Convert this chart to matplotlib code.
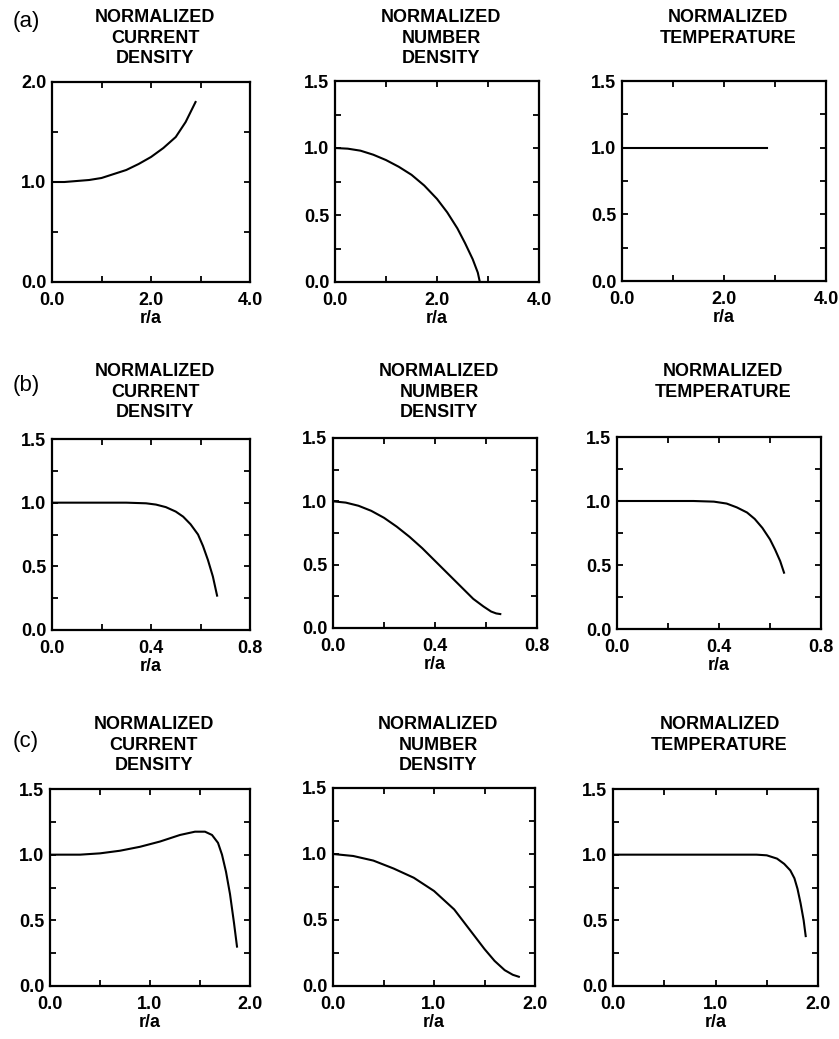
import numpy as np
import matplotlib
matplotlib.use('Agg')
import matplotlib.pyplot as plt
from matplotlib.ticker import MultipleLocator, FormatStrFormatter

plt.rcParams['font.family'] = ['Liberation Sans', 'DejaVu Sans']

# -------- DATA --------
# row (a)
a_cur_x = [0.0, 0.25, 0.5, 0.75, 1.0, 1.25, 1.5, 1.75, 2.0, 2.25, 2.5, 2.7, 2.9]
a_cur_y = [1.0, 1.0, 1.01, 1.02, 1.04, 1.08, 1.12, 1.18, 1.25, 1.34, 1.45, 1.6, 1.8]
a_num_x = [0.0, 0.25, 0.5, 0.75, 1.0, 1.25, 1.5, 1.75, 2.0, 2.2, 2.4, 2.55, 2.7, 2.8, 2.84]
a_num_y = [1.0, 0.995, 0.98, 0.95, 0.91, 0.86, 0.8, 0.72, 0.62, 0.52, 0.4, 0.29, 0.17, 0.07, 0.0]
a_tmp_x = [0.0, 2.85]
a_tmp_y = [1.0, 1.0]

# row (b)
b_cur_x = [0.0, 0.3, 0.38, 0.42, 0.46, 0.5, 0.53, 0.56, 0.59, 0.61, 0.63, 0.65, 0.667]
b_cur_y = [1.0, 1.0, 0.995, 0.985, 0.965, 0.93, 0.89, 0.83, 0.75, 0.66, 0.55, 0.42, 0.27]
b_num_x = [0.0, 0.05, 0.1, 0.15, 0.2, 0.25, 0.3, 0.35, 0.4, 0.45, 0.5, 0.55, 0.59, 0.62, 0.64, 0.656]
b_num_y = [1.0, 0.99, 0.965, 0.925, 0.87, 0.8, 0.72, 0.63, 0.53, 0.43, 0.33, 0.23, 0.17, 0.13, 0.115, 0.11]
b_tmp_x = [0.0, 0.3, 0.38, 0.43, 0.47, 0.51, 0.54, 0.57, 0.6, 0.62, 0.64, 0.655]
b_tmp_y = [1.0, 1.0, 0.995, 0.98, 0.95, 0.91, 0.86, 0.79, 0.7, 0.62, 0.53, 0.44]

# row (c)
c_cur_x = [0.0, 0.3, 0.5, 0.7, 0.9, 1.1, 1.3, 1.45, 1.55, 1.62, 1.68, 1.72, 1.76, 1.8, 1.84, 1.87]
c_cur_y = [1.0, 1.0, 1.01, 1.03, 1.06, 1.1, 1.15, 1.175, 1.175, 1.15, 1.09, 1.0, 0.87, 0.7, 0.48, 0.3]
c_num_x = [0.0, 0.2, 0.4, 0.6, 0.8, 1.0, 1.2, 1.4, 1.5, 1.6, 1.7, 1.78, 1.84]
c_num_y = [1.0, 0.985, 0.95, 0.89, 0.82, 0.72, 0.58, 0.38, 0.28, 0.19, 0.12, 0.085, 0.07]
c_tmp_x = [0.0, 1.4, 1.5, 1.6, 1.67, 1.73, 1.77, 1.8, 1.83, 1.86, 1.88]
c_tmp_y = [1.0, 1.0, 0.995, 0.97, 0.93, 0.88, 0.82, 0.74, 0.63, 0.5, 0.38]

row_labels = ['(a)', '(b)', '(c)']
titles = ['NORMALIZED\nCURRENT\nDENSITY',
          'NORMALIZED\nNUMBER\nDENSITY',
          'NORMALIZED\nTEMPERATURE']
xlims = [4.0, 0.8, 2.0]
x_major = [2.0, 0.4, 1.0]
x_minor = [1.0, 0.2, 0.5]

rows = [
    [(a_cur_x, a_cur_y), (a_num_x, a_num_y), (a_tmp_x, a_tmp_y)],
    [(b_cur_x, b_cur_y), (b_num_x, b_num_y), (b_tmp_x, b_tmp_y)],
    [(c_cur_x, c_cur_y), (c_num_x, c_num_y), (c_tmp_x, c_tmp_y)],
]
ylims = [[2.0, 1.5, 1.5], [1.5, 1.5, 1.5], [1.5, 1.5, 1.5]]
# ------------------------------------------------

W, H = 839, 1039
# axes boxes in pixels: left, right, top, bottom
boxes = [
    [(52, 250, 82, 282), (335, 539, 81, 282), (622, 826, 81, 281)],
    [(52, 250, 439, 630), (333, 537, 438, 628), (617, 821, 437, 629)],
    [(50, 250, 789, 986), (333, 535, 788, 986), (613, 818, 789, 986)],
]
title_top = [9, 363, 716]
label_y = [22, 385, 742]

fig = plt.figure(figsize=(W / 100, H / 100), dpi=100)

for r in range(3):
    fig.text(13 / W, 1 - label_y[r] / H, row_labels[r], fontsize=16,
             ha='left', va='center')
    for c in range(3):
        l, rt, t, b = boxes[r][c]
        ax = fig.add_axes([l / W, 1 - b / H, (rt - l) / W, (b - t) / H])
        x, y = rows[r][c]
        ax.plot(x, y, color='black', lw=1.5, solid_joinstyle='round')
        ax.set_xlim(0, xlims[r])
        ax.set_ylim(0, ylims[r][c])
        ax.xaxis.set_major_locator(MultipleLocator(x_major[r]))
        ax.xaxis.set_minor_locator(MultipleLocator(x_minor[r]))
        if ylims[r][c] == 2.0:
            ax.yaxis.set_major_locator(MultipleLocator(1.0))
            ax.yaxis.set_minor_locator(MultipleLocator(0.5))
        else:
            ax.yaxis.set_major_locator(MultipleLocator(0.5))
            ax.yaxis.set_minor_locator(MultipleLocator(0.25))
        ax.xaxis.set_major_formatter(FormatStrFormatter('%.1f'))
        ax.yaxis.set_major_formatter(FormatStrFormatter('%.1f'))
        ax.tick_params(which='both', direction='in', top=True, right=True,
                       length=4, width=1.3)
        ax.tick_params(axis='x', which='major', labelsize=13, pad=7)
        ax.tick_params(axis='y', which='major', labelsize=13, pad=4)
        for lab in ax.get_xticklabels() + ax.get_yticklabels():
            lab.set_fontweight('bold')
        for sp in ax.spines.values():
            sp.set_linewidth(1.6)
        ax.set_xlabel('r/a', fontsize=13, fontweight='bold', labelpad=1)
        fig.text((l + rt) / 2 / W + 4 / W, 1 - title_top[r] / H, titles[c],
                 fontsize=13, fontweight='bold', ha='center', va='top',
                 linespacing=1.28)

fig.savefig('out.png', dpi=100)
